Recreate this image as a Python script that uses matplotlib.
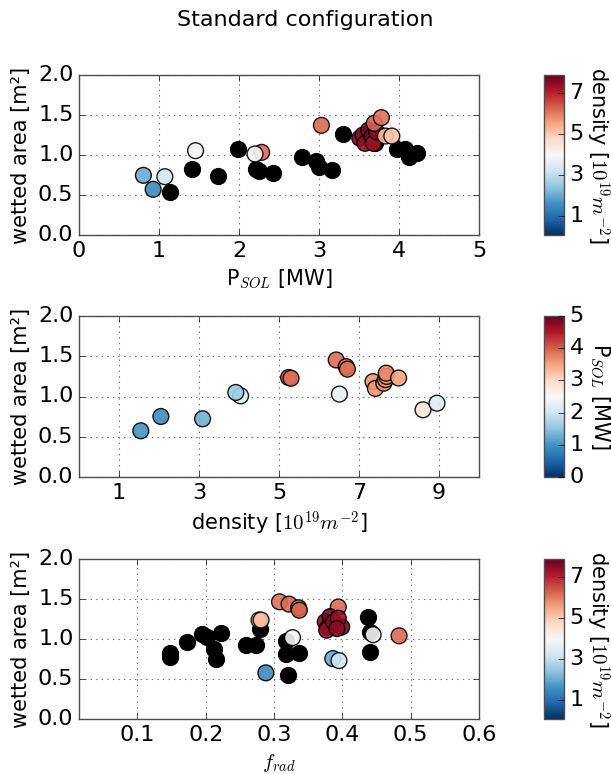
import numpy as np
import matplotlib
matplotlib.use("Agg")
import matplotlib.pyplot as plt

# panel 1: wetted area vs P_SOL, coloured by density (black = no density)
p1_psol = [0.805, 0.927, 1.073, 1.457, 2.283, 2.20, 3.03, 3.51, 3.55, 3.575, 3.62, 3.66,
           3.68, 3.72, 3.69, 3.78, 3.83, 3.91]
p1_area = [0.746, 0.571, 0.729, 1.054, 1.033, 1.013, 1.371, 1.21, 1.25, 1.146, 1.31, 1.23,
           1.146, 1.29, 1.396, 1.467, 1.237, 1.237]
p1_dens = [2.0, 1.5, 3.3, 3.9, 6.2, 3.9, 6.2, 7.6, 7.5, 7.4, 7.7, 7.6,
           7.3, 7.5, 6.3, 6.1, 5.2, 5.1]
p1_black_psol = [1.14, 1.41, 1.74, 1.99, 2.21, 2.25, 2.42, 2.79, 2.96, 3.0, 3.16, 3.30,
                 3.70, 3.97, 4.07, 4.12, 4.22]
p1_black_area = [0.54, 0.83, 0.74, 1.08, 0.83, 0.80, 0.775, 0.97, 0.925, 0.846, 0.817, 1.258,
                 1.146, 1.08, 1.08, 0.98, 1.02]

# panel 2: wetted area vs density, coloured by P_SOL
p2_dens = [1.545, 2.046, 3.09, 4.04, 3.92, 5.24, 5.30, 6.43, 6.51, 6.68, 6.71, 7.35,
           7.41, 7.62, 7.66, 7.69, 7.68, 7.99, 8.60, 8.95]
p2_area = [0.574, 0.752, 0.723, 1.008, 1.05, 1.236, 1.227, 1.454, 1.03, 1.371, 1.34, 1.185,
           1.10, 1.165, 1.21, 1.25, 1.29, 1.23, 0.835, 0.917]
p2_psol = [1.0, 0.9, 1.3, 2.2, 1.6, 4.0, 3.9, 3.9, 2.3, 3.8, 3.9, 3.6,
           3.6, 3.6, 3.6, 3.6, 3.7, 3.5, 2.8, 2.2]

# panel 3: wetted area vs f_rad, coloured by density
p3_frad = [0.288, 0.386, 0.395, 0.327, 0.445, 0.483, 0.278, 0.281, 0.308, 0.322, 0.336, 0.337,
           0.394, 0.375, 0.379, 0.377, 0.382, 0.387, 0.399, 0.394, 0.392]
p3_area = [0.577, 0.755, 0.73, 1.017, 1.054, 1.04, 1.237, 1.237, 1.465, 1.436, 1.39, 1.36,
           1.40, 1.215, 1.15, 1.11, 1.28, 1.215, 1.15, 1.26, 1.13]
p3_dens = [1.5, 2.0, 3.3, 3.9, 3.9, 6.2, 5.1, 5.2, 6.1, 6.2, 6.2, 6.3,
           6.2, 7.5, 7.6, 7.4, 7.7, 7.5, 7.6, 7.4, 7.5]
p3_black_frad = [0.147, 0.148, 0.172, 0.195, 0.202, 0.222, 0.212, 0.215, 0.259, 0.274, 0.279,
                 0.318, 0.318, 0.337, 0.32, 0.438, 0.441, 0.441]
p3_black_area = [0.82, 0.77, 0.963, 1.062, 1.02, 1.07, 0.87, 0.75, 0.92, 0.92, 1.124,
                 0.975, 0.813, 0.83, 0.544, 1.27, 1.09, 0.842]

dens_ticks = [1, 3, 5, 7]
psol_ticks = [0, 1, 2, 3, 4, 5]

plt.style.use("classic")
plt.rcParams["mathtext.fontset"] = "cm"
plt.rcParams["font.size"] = 15

FS = 15      # axis labels
TS = 16      # tick labels
MS = 130
CMAP = "RdBu_r"

fig = plt.figure(figsize=(6.11, 7.74), dpi=100, facecolor="white")
fig.text(0.5, 1 - 20 / 774, "Standard configuration", ha="center", va="center", fontsize=16)

W, H = 611.0, 774.0


def make_axes(top_px, bot_px):
    ax = fig.add_axes([79 / W, 1 - bot_px / H, 400 / W, (bot_px - top_px) / H])
    cax = fig.add_axes([544 / W, 1 - bot_px / H, 20 / W, (bot_px - top_px) / H])
    return ax, cax


def style_axes(ax):
    ax.set_ylim(0, 2)
    ax.set_yticks([0, 0.5, 1.0, 1.5, 2.0])
    ax.set_yticklabels(["0.0", "0.5", "1.0", "1.5", "2.0"])
    ax.grid(True, color="0.45", linestyle=":", linewidth=0.8)
    ax.set_axisbelow(True)
    ax.tick_params(labelsize=TS)
    ax.set_ylabel("wetted area [m²]", fontsize=FS)
    for s in ax.spines.values():
        s.set_color("0.3")


def style_cbar(cb, label):
    cb.ax.tick_params(labelsize=TS)
    cb.outline.set_edgecolor("0.3")
    cb.set_label(label, rotation=270, fontsize=FS, labelpad=20)


# ---- panel 1
ax1, cax1 = make_axes(75, 235)
ax1.scatter(p1_black_psol, p1_black_area, s=MS, c="k", edgecolors="k", zorder=3)
sc1 = ax1.scatter(p1_psol, p1_area, s=MS, c=p1_dens, cmap=CMAP, vmin=0.07, vmax=7.9,
                  edgecolors="k", linewidths=1, alpha=0.9, zorder=4)
ax1.set_xlim(0, 5)
ax1.set_xticks([0, 1, 2, 3, 4, 5])
ax1.set_xlabel("P$_{SOL}$ [MW]", fontsize=FS)
style_axes(ax1)
cb1 = fig.colorbar(sc1, cax=cax1, ticks=dens_ticks)
cb1.solids.set_alpha(1)
style_cbar(cb1, "density [$10^{19} m^{-2}$]")

# ---- panel 2
ax2, cax2 = make_axes(316, 477)
sc2 = ax2.scatter(p2_dens, p2_area, s=MS, c=p2_psol, cmap=CMAP, vmin=0, vmax=5,
                  edgecolors="k", linewidths=1, alpha=0.9, zorder=4)
ax2.set_xlim(0, 10)
ax2.set_xticks([1, 3, 5, 7, 9])
ax2.set_xlabel("density [$10^{19} m^{-2}$]", fontsize=FS)
style_axes(ax2)
cb2 = fig.colorbar(sc2, cax=cax2, ticks=psol_ticks)
cb2.solids.set_alpha(1)
style_cbar(cb2, "P$_{SOL}$ [MW]")

# ---- panel 3
ax3, cax3 = make_axes(559, 719)
ax3.scatter(p3_black_frad, p3_black_area, s=MS, c="k", edgecolors="k", zorder=3)
sc3 = ax3.scatter(p3_frad, p3_area, s=MS, c=p3_dens, cmap=CMAP, vmin=0.07, vmax=7.9,
                  edgecolors="k", linewidths=1, alpha=0.9, zorder=4)
ax3.set_xlim(0.0145, 0.6)
ax3.set_xticks([0.1, 0.2, 0.3, 0.4, 0.5, 0.6])
ax3.set_xlabel("$f_{rad}$", fontsize=FS)
style_axes(ax3)
cb3 = fig.colorbar(sc3, cax=cax3, ticks=dens_ticks)
cb3.solids.set_alpha(1)
style_cbar(cb3, "density [$10^{19} m^{-2}$]")

fig.savefig("out.png", dpi=100, facecolor="white")
